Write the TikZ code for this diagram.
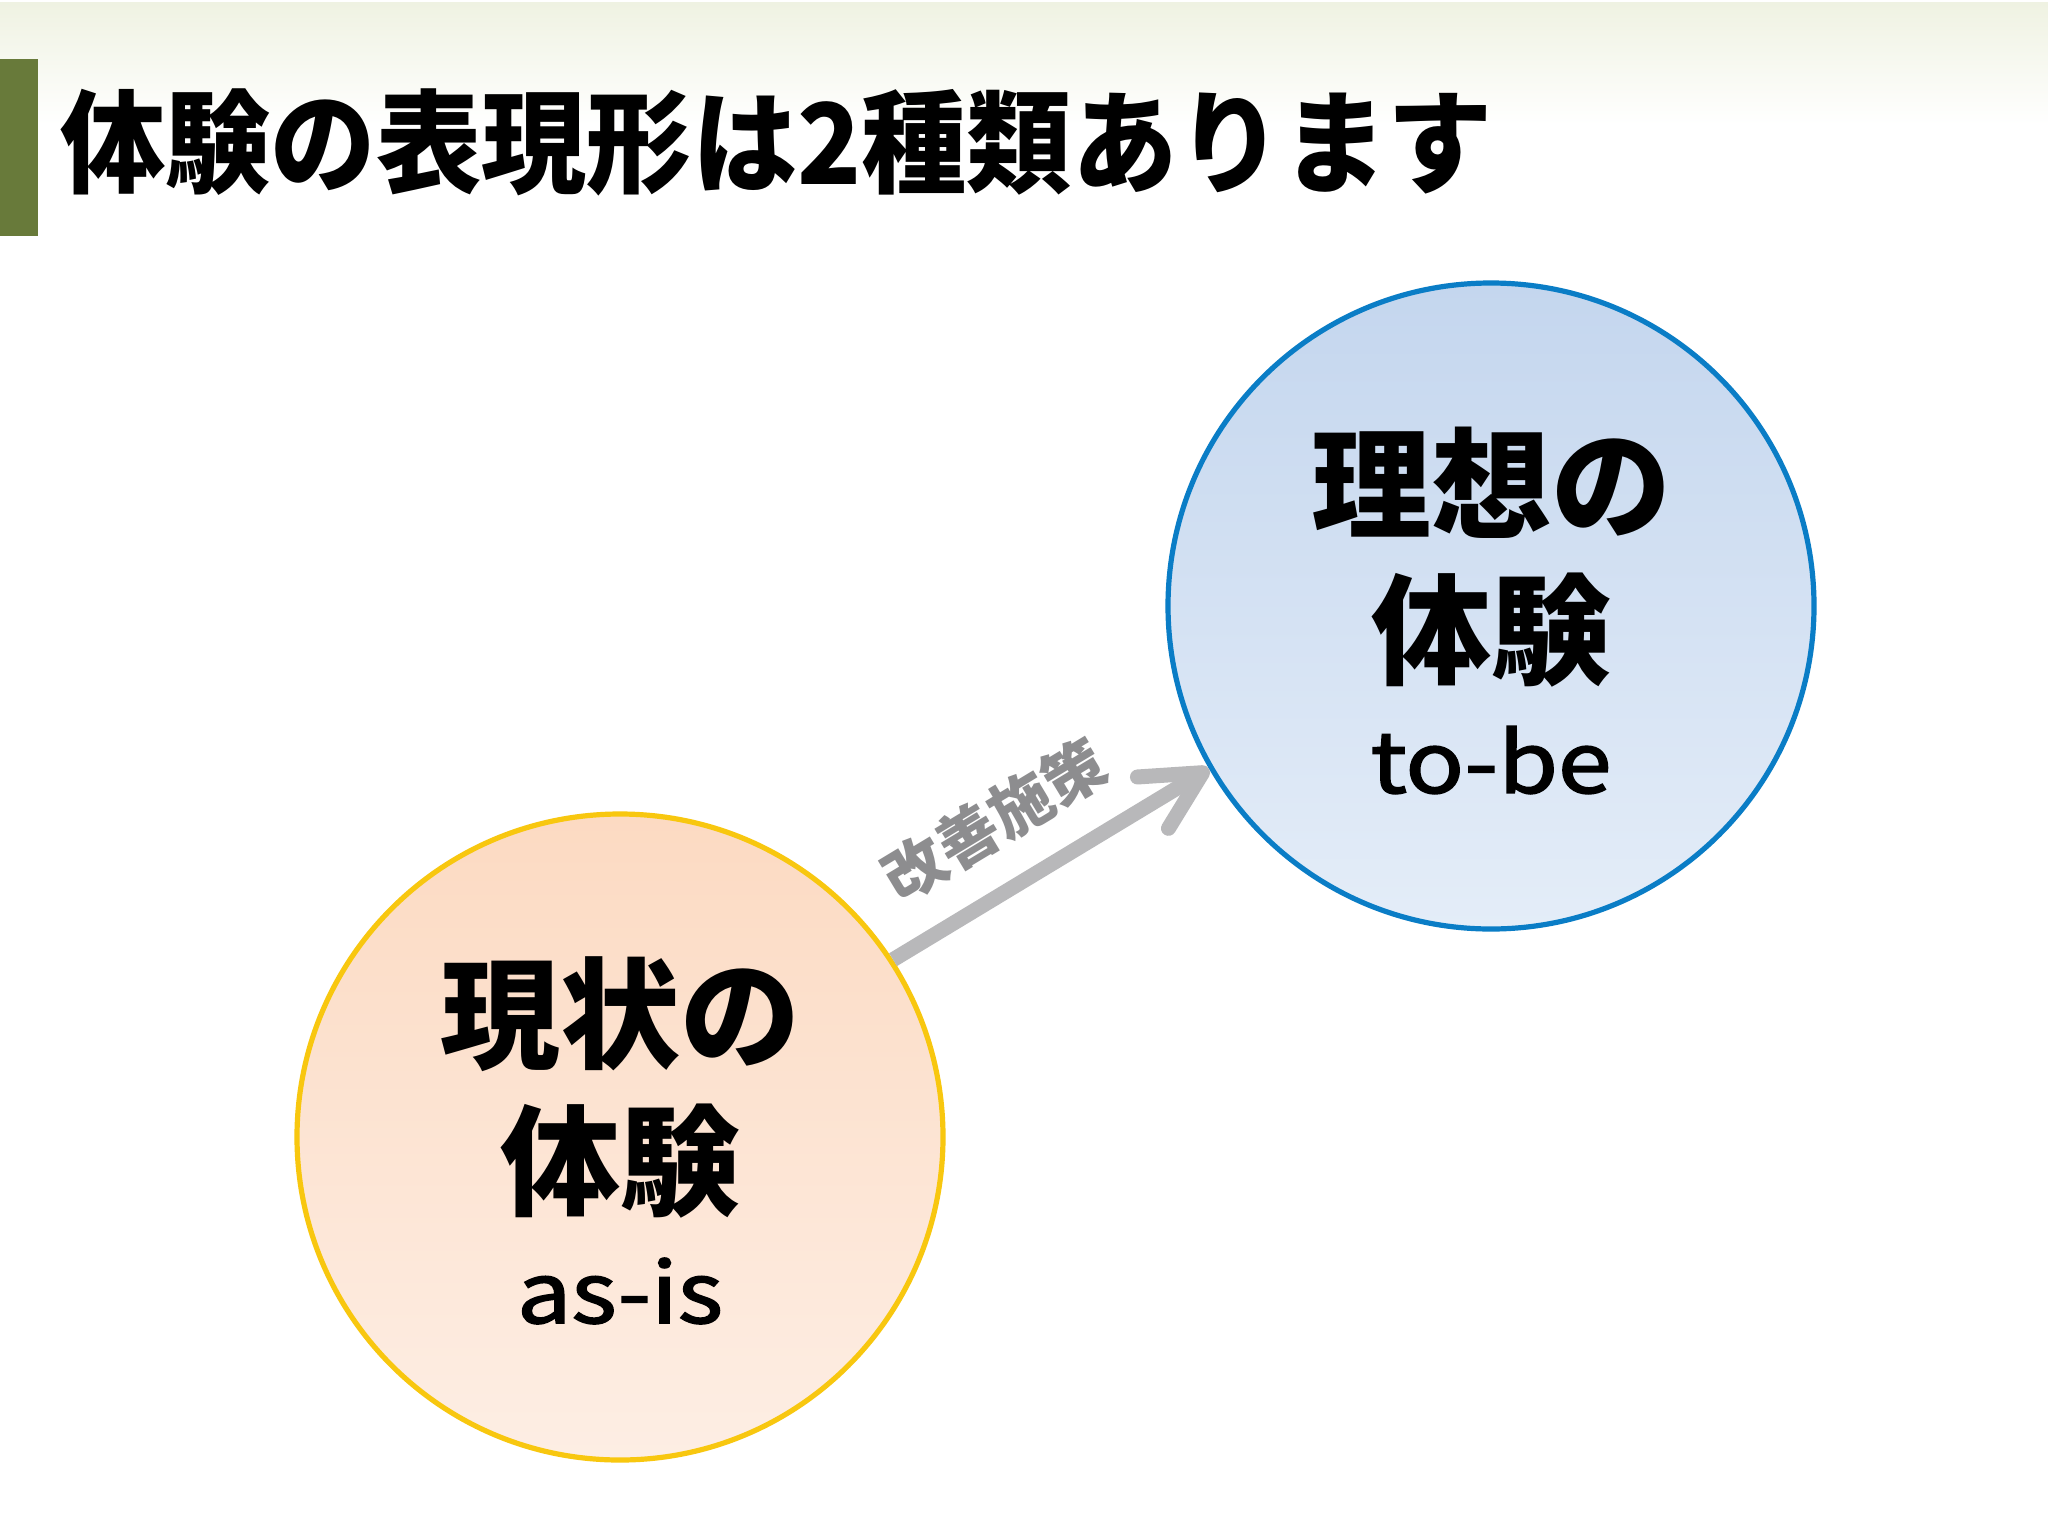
\documentclass[tikz,border=0pt]{standalone}
\usepackage{fontspec}
\usepackage{graphicx}
\setmainfont{Noto Sans CJK JP}
\newfontfamily\latinfont{Noto Sans CJK JP}[FakeBold=1.8]
\usetikzlibrary{arrows.meta}

\definecolor{barGreen}{HTML}{687A3A}
\definecolor{topTint}{HTML}{EFF2E2}
\definecolor{asisTop}{HTML}{FCDAC2}
\definecolor{asisBot}{HTML}{FDEEE4}
\definecolor{asisLine}{HTML}{F8C70F}
\definecolor{tobeTop}{HTML}{C4D6EE}
\definecolor{tobeBot}{HTML}{E4EDF8}
\definecolor{tobeLine}{HTML}{0A7DC6}
\definecolor{stepGray}{HTML}{B8B8BA}
\definecolor{labelGray}{HTML}{8D8D8F}

\newcommand{\widetxt}[1]{\scalebox{1.15}[1]{#1}}

\tikzset{
	expcircle/.style={circle, minimum size=323pt, inner sep=0pt, line width=2.6pt},
	bigtxt/.style={font=\fontsize{60pt}{60pt}\selectfont\bfseries, inner sep=0pt},
	smalltxt/.style={font=\fontsize{42pt}{42pt}\latinfont, inner sep=0pt},
}

\begin{document}
\begin{tikzpicture}[x=0.5pt,y=-0.5pt]
	\useasboundingbox (0,0) rectangle (2048,1536);
	\fill[white] (0,0) rectangle (2048,1536);
	\shade[top color=topTint, bottom color=white] (0,3) rectangle (2048,125);
	\fill[barGreen] (0,59) rectangle (38,236);
	\node[anchor=west, inner sep=0pt, font=\fontsize{56pt}{56pt}\selectfont\bfseries] (title) at (60,142)
		{\scalebox{0.94}[1]{体験の表現形は2種類あります}};
	% the two circles
	\node[expcircle, draw=asisLine, top color=asisTop, bottom color=asisBot] (asis) at (620,1137) {};
	\node[expcircle, draw=tobeLine, top color=tobeTop, bottom color=tobeBot] (tobe) at (1491,606) {};
	\node[bigtxt] (asis-a) at ([yshift=61.5pt]asis.center) {現状の};
	\node[bigtxt] (asis-b) at ([yshift=-12pt]asis.center) {体験};
	\node[smalltxt] (asis-c) at ([yshift=-77pt]asis.center) {\widetxt{as-is}};
	\node[bigtxt] (tobe-a) at ([yshift=61.5pt]tobe.center) {理想の};
	\node[bigtxt] (tobe-b) at ([yshift=-12pt]tobe.center) {体験};
	\node[smalltxt] (tobe-c) at ([yshift=-77pt]tobe.center) {\widetxt{to-be}};
	% arrow
	\draw[stepGray, line width=7.5pt, -{Straight Barb[length=29pt, width=30pt, round]}]
		(asis.33) -- node[pos=0.43, sloped, above=15pt, inner sep=0pt, text=labelGray,
		font=\fontsize{31pt}{31pt}\selectfont\bfseries] (kaizen) {改善施策} (tobe.210);
\end{tikzpicture}
\end{document}
